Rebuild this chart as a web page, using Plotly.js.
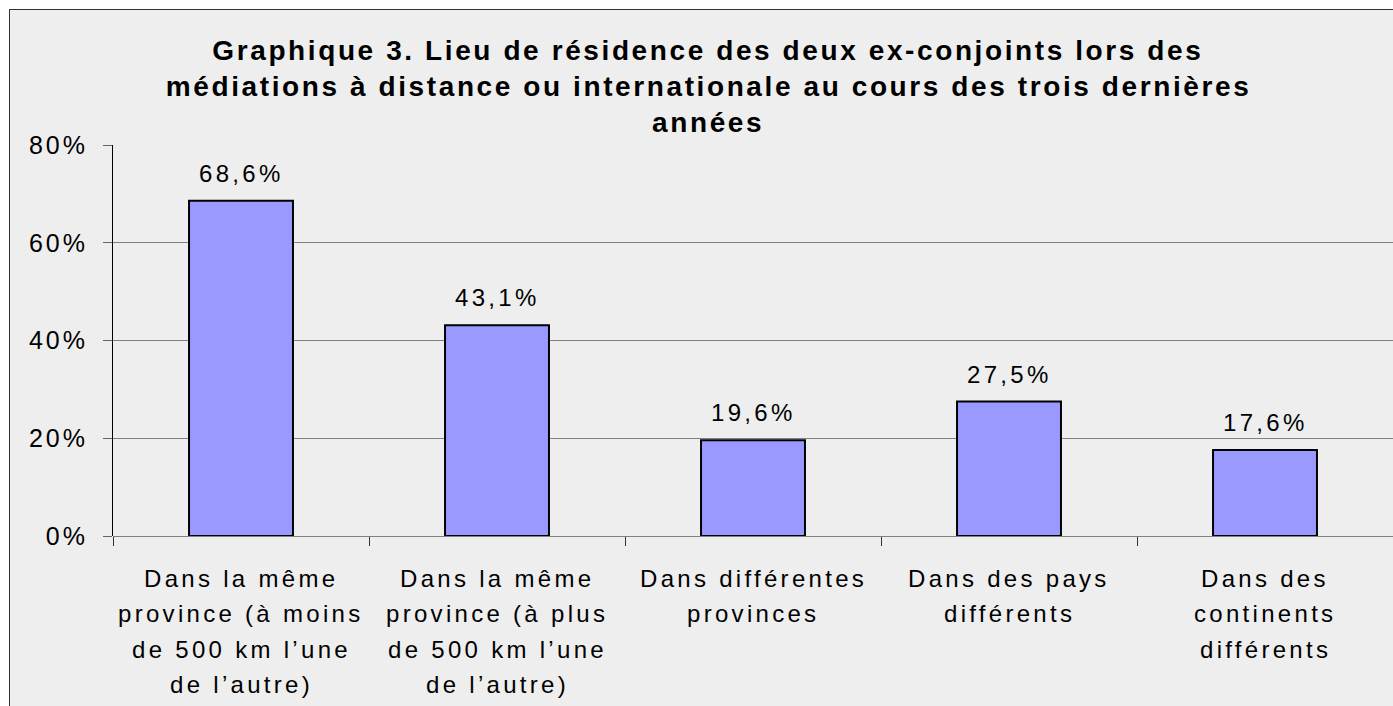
<!DOCTYPE html>
<html>
<head>
<meta charset="utf-8">
<script src="https://cdn.plot.ly/plotly-3.0.1.min.js"></script>
<style>
  html, body { margin: 0; padding: 0; background: #ffffff; }
  #frame { position: absolute; left: 9px; top: 9px; border-left: 1px solid #333; border-top: 1px solid #333; }
  #chart { width: 1383px; height: 696px; }
  .ytick text { letter-spacing: 3px; }
  .annotation-text { letter-spacing: 3.3px; }
  .annotation.title-ann .annotation-text { letter-spacing: 2.6px; }
</style>
</head>
<body>
<div id="frame"><div id="chart"></div></div>
<script>
// ---- data ----
const categories = ["cat1", "cat2", "cat3", "cat4", "cat5"];
const values = [68.6, 43.1, 19.6, 27.5, 17.6];
const categoryLabels = [
  ["Dans la même", "province (à moins", "de 500 km l’une", "de l’autre)"],
  ["Dans la même", "province (à plus", "de 500 km l’une", "de l’autre)"],
  ["Dans différentes", "provinces"],
  ["Dans des pays", "différents"],
  ["Dans des", "continents", "différents"]
];
const titleLines = [
  "Graphique 3. Lieu de résidence des deux ex-conjoints lors des",
  "médiations à distance ou internationale au cours des trois dernières",
  "années"
];
const yTicks = [0, 20, 40, 60, 80];

// ---- styles ----
const FONT = "Liberation Sans, Arial, sans-serif";
const annotations = [];

// value labels
categories.forEach((c, i) => {
  annotations.push({
    x: c, y: values[i], xref: "x", yref: "y",
    text: values[i].toFixed(1).replace(".", ",") + "%",
    showarrow: false, yanchor: "middle", yshift: 27.5,
    font: {family: FONT, size: 24, color: "#000"}
  });
});

// category labels (multi-line)
categories.forEach((c, i) => {
  categoryLabels[i].forEach((line, j) => {
    annotations.push({
      x: c, y: 0, xref: "x", yref: "y",
      text: line, showarrow: false, yanchor: "middle",
      yshift: -42 - j * 35.5,
      font: {family: FONT, size: 24, color: "#000"}
    });
  });
});

// title lines
titleLines.forEach((line, j) => {
  annotations.push({
    x: 0.465, y: 1, xref: "paper", yref: "paper",
    text: "<b>" + line + "</b>", showarrow: false, yanchor: "middle",
    yshift: 95 - j * 36,
    font: {family: FONT, size: 28, color: "#000"}
  });
});

const trace = {
  type: "bar",
  x: categories,
  y: values,
  marker: {color: "#9999ff", line: {color: "#000", width: 2}},
  hoverinfo: "skip"
};

const layout = {
  width: 1383, height: 696,
  margin: {l: 103, r: 0, t: 135, b: 170, pad: 0},
  paper_bgcolor: "#eeeeee",
  plot_bgcolor: "#eeeeee",
  showlegend: false,
  bargap: 0.594,
  xaxis: {
    type: "category",
    showticklabels: false,
    showgrid: false,
    showline: false,
    zeroline: false,
    ticks: "outside",
    tickson: "boundaries",
    ticklen: 9,
    tickcolor: "#333",
    tickwidth: 1,
    fixedrange: true
  },
  yaxis: {
    range: [0, 80],
    tickvals: yTicks,
    ticktext: yTicks.map(v => v + "%"),
    showgrid: true,
    gridcolor: "#808080",
    gridwidth: 1,
    zeroline: true,
    zerolinecolor: "#808080",
    zerolinewidth: 1,
    showline: true,
    linecolor: "#000",
    linewidth: 1,
    ticks: "outside",
    ticklen: 9,
    tickcolor: "#666",
    ticklabelstandoff: 10,
    tickfont: {family: FONT, size: 25, color: "#000"},
    fixedrange: true
  },
  annotations: annotations
};

Plotly.newPlot("chart", [trace], layout, {displayModeBar: false, staticPlot: true}).then(() => {
  const anns = document.querySelectorAll("#chart .annotation");
  const n = annotations.length;
  anns.forEach((el, k) => {
    if (k >= n - titleLines.length) el.classList.add("title-ann");
  });
});
</script>
</body>
</html>
